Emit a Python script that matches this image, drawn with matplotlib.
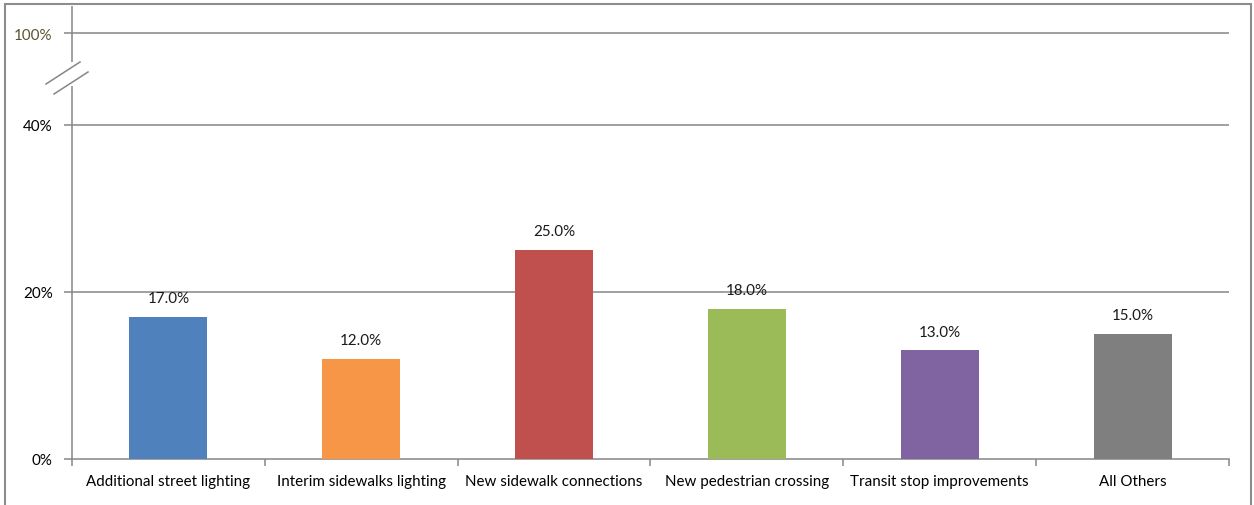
import matplotlib.pyplot as plt
from matplotlib.lines import Line2D
from matplotlib.patches import Rectangle

categories = ['Additional street lighting', 'Interim sidewalks lighting', 'New sidewalk connections',
              'New pedestrian crossing', 'Transit stop improvements', 'All Others']
values = [17.0, 12.0, 25.0, 18.0, 13.0, 15.0]
colors = ['#4F81BD', '#F79646', '#C0504D', '#9BBB59', '#8064A2', '#7F7F7F']

# broken axis: the "100%" line is drawn at 51 on the linear scale
tick_pos = [0, 20, 40, 51]
tick_labels = ['0%', '20%', '40%', '100%']
break_lo, break_hi = 44.7, 47.6

plt.rcParams['font.family'] = ['Lato', 'DejaVu Sans']
grid_col = '#868686'
fs = 10.9

fig = plt.figure(figsize=(12.54, 5.06), dpi=100)
ax = fig.add_axes([72 / 1254, 1 - 460 / 506, (1229 - 72) / 1254, (460 - 7) / 506])

x = range(len(categories))
ax.bar(x, values, width=0.405, color=colors, zorder=3)
for xi, v in zip(x, values):
    ax.annotate('%.1f%%' % v, (xi, v), xytext=(0, 8.5), textcoords='offset points',
                ha='center', va='bottom', fontsize=fs, color='#1a1a1a')

ax.set_xlim(-0.5, len(categories) - 0.5)
ax.set_ylim(0, 54.25)
ax.set_yticks(tick_pos)
ax.set_yticklabels(tick_labels, fontsize=fs)
ax.get_yticklabels()[-1].set_color('#5a5530')
for t in tick_pos[1:]:
    ax.axhline(t, color=grid_col, lw=1.1, zorder=1)

ax.set_xticks(list(x))
ax.set_xticklabels(categories, fontsize=fs)
ax.set_xticks([i - 0.5 for i in range(len(categories) + 1)], minor=True)
ax.tick_params(axis='x', which='major', length=0, pad=11)
ax.tick_params(axis='x', which='minor', length=5, color=grid_col, width=1.1)
ax.tick_params(axis='y', length=6, color=grid_col, width=1.1, pad=8)

for s in ['top', 'right', 'left']:
    ax.spines[s].set_visible(False)
ax.spines['bottom'].set_color(grid_col)
ax.spines['bottom'].set_linewidth(1.1)

# left axis line with a gap for the break
ax.vlines(-0.5, 0, break_lo, color=grid_col, lw=1.1, clip_on=False)
ax.vlines(-0.5, break_hi, 54.25, color=grid_col, lw=1.1, clip_on=False)
for y0, y1 in [(85, 63), (95, 73)]:
    fig.add_artist(Line2D([(46 if y0 == 85 else 54) / 1254, (80 if y0 == 85 else 88) / 1254],
                          [1 - y0 / 506, 1 - y1 / 506], color=grid_col, lw=1.1))

# outer frame
fig.add_artist(Rectangle((5 / 1254, -0.02), 1246 / 1254, 1.02 - 5 / 506, fill=False,
                         edgecolor='#8c8c8c', lw=1.5, transform=fig.transFigure))

fig.savefig('out.png', dpi=100)
